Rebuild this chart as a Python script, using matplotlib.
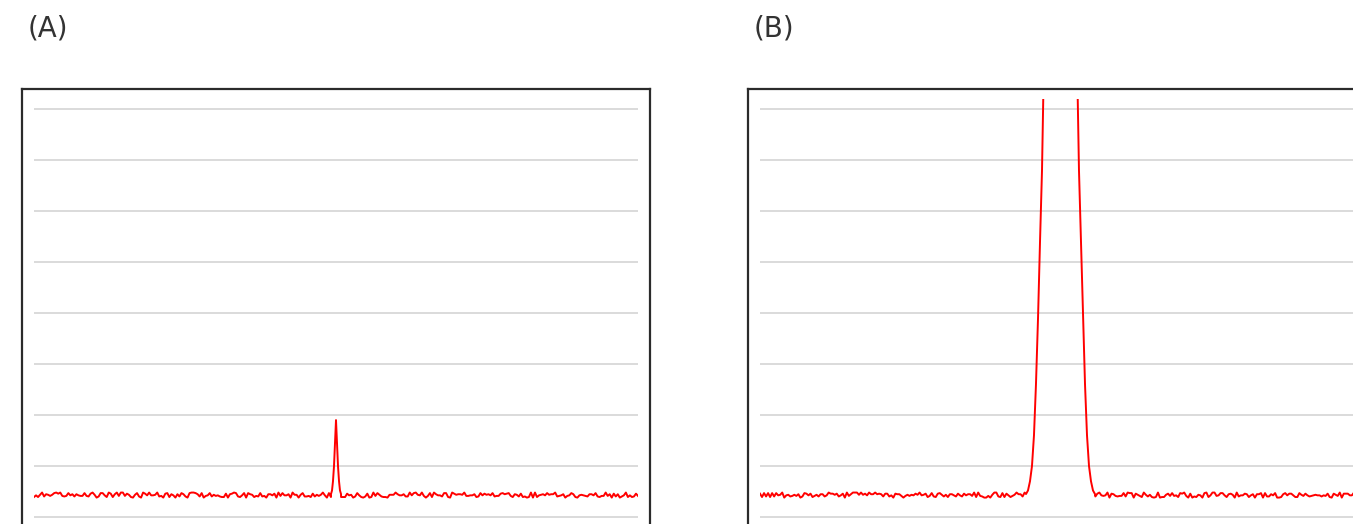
import numpy as np
import matplotlib
matplotlib.use("Agg")
import matplotlib.pyplot as plt

# baseline level of both traces and jitter around it (one digit per sample)
baseline = 0.43
jitter_scale = 0.011
noise_a = ("1415926535897932384626433832795028841971693993751058209749445923078164"
           "0628620899862803482534211706798214808651328230664709384460955058223172"
           "5359408128481117450284102701938521105559644622948954930381964428810975"
           "6659334461284756482337867831652712019091456485669234603486104543266482"
           "13393607260249141273")
noise_b = ("7182818284590452353602874713526624977572470936999595749669676277240766"
           "3035354759457138217852516642742746639193200305992181741359662904357290"
           "0334295260595630738132328627943490763233829880753195251019011573834187"
           "9307021540891499348841675092447614606680822648001684774118537423454424"
           "37107539077744992069")

# (A): narrow peak around x = 500
peak_a_x = [491.7, 493.4, 495.0, 496.7, 498.3, 500.0, 501.7, 503.3, 505.0, 506.6, 508.3]
peak_a_y = [0.45, 0.52, 0.70, 1.00, 1.45, 1.90, 1.45, 1.00, 0.70, 0.52, 0.45]

# (B): broad, tall peak running past the top of the axis
peak_b_x = [440.4, 443.7, 447.0, 450.3, 453.6, 456.9, 460.3, 463.6, 466.9, 469.4, 473.5,
            497.5, 521.5, 525.6, 528.1, 531.4, 534.8, 538.1, 541.4, 544.7, 548.0, 551.3, 554.6]
peak_b_y = [0.45, 0.52, 0.70, 1.00, 1.60, 2.60, 3.90, 5.40, 6.80, 8.50, 11.0,
            12.0, 11.0, 8.50, 6.80, 5.40, 3.90, 2.60, 1.60, 1.00, 0.70, 0.52, 0.45]

labels = ["(A)", "(B)"]

W, H = 1353, 524


def trace(noise, px, py):
    xs = np.linspace(0, 1000, len(noise))
    ys = baseline + (np.array([int(c) for c in noise]) - 4.5) * jitter_scale
    keep = (xs < px[0]) | (xs > px[-1])
    x = np.concatenate([xs[keep], px])
    y = np.concatenate([ys[keep], py])
    order = np.argsort(x)
    return x[order], y[order]


def px_rect(left, top, right, bottom):
    return [left / W, 1 - bottom / H, (right - left) / W, (bottom - top) / H]


fig = plt.figure(figsize=(W / 100, H / 100), dpi=100)

panels = [(22, noise_a, peak_a_x, peak_a_y), (748, noise_b, peak_b_x, peak_b_y)]
for (left, noise, px, py), label in zip(panels, labels):
    # outer frame box
    frame = fig.add_axes(px_rect(left, 88.5, left + 628, 541))
    frame.set_xticks([])
    frame.set_yticks([])
    for s in frame.spines.values():
        s.set_color("#2b2b2b")
        s.set_linewidth(1.6)

    ax = fig.add_axes(px_rect(left + 12, 99, left + 616, 530))
    ax.patch.set_alpha(0)
    for s in ax.spines.values():
        s.set_visible(False)
    ax.set_xlim(0, 1000)
    ax.set_ylim(-0.255, 8.196)
    ax.set_yticks(range(9))
    ax.set_xticks([])
    ax.tick_params(length=0, labelleft=False)
    ax.yaxis.grid(True, color="#dadada", linewidth=1.4)
    ax.set_axisbelow(True)

    x, y = trace(noise, px, py)
    ax.plot(x, y, color="red", linewidth=1.4)

    fig.text((left + 6) / W, 1 - 28 / H, label, ha="left", va="center",
             fontsize=20, color="#333333")

fig.savefig("out.png", dpi=100)
